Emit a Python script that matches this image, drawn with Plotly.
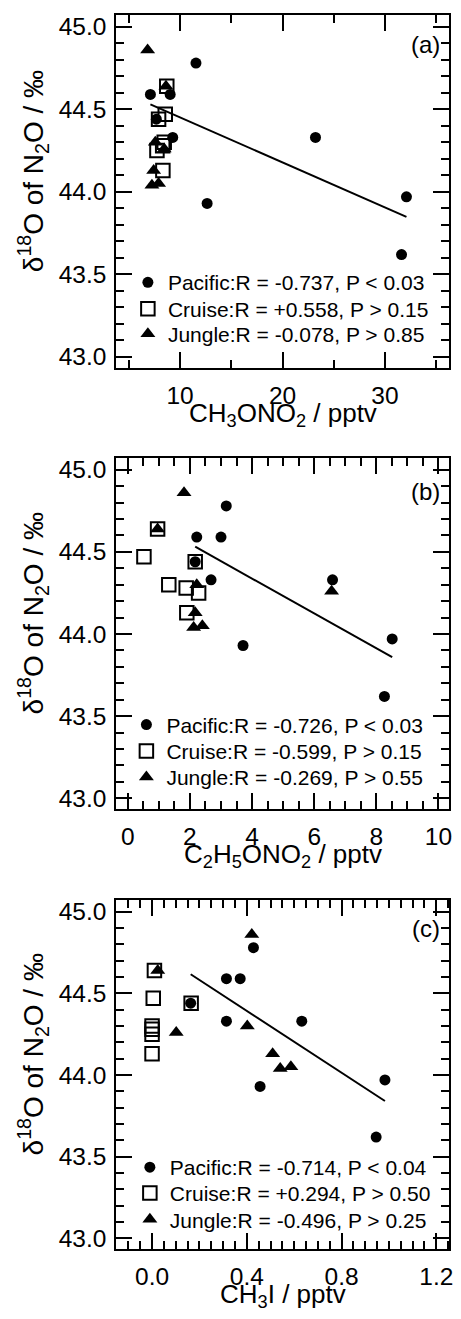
import numpy as np
import plotly.graph_objects as go

# ---------------- data ----------------
# delta18O of N2O (permil), shared by the three panels
pacific_d18o = [44.78, 44.59, 44.59, 44.44, 44.33, 44.33, 43.97, 43.93, 43.62]
cruise_d18o = [44.64, 44.47, 44.44, 44.30, 44.28, 44.25, 44.13]
jungle_d18o = [44.86, 44.64, 44.30, 44.26, 44.13, 44.05, 44.04]

# (a) CH3ONO2 / pptv
pacific_ch3ono2 = [11.55, 7.10, 9.03, 7.68, 9.28, 23.22, 32.10, 12.64, 31.62]
cruise_ch3ono2 = [8.70, 8.55, 7.90, 8.45, 8.30, 7.74, 8.32]
jungle_ch3ono2 = [6.83, 8.62, 7.58, 8.45, 7.42, 7.90, 7.25]

# (b) C2H5ONO2 / pptv
pacific_c2h5ono2 = [3.17, 2.22, 3.00, 2.17, 2.68, 6.59, 8.51, 3.71, 8.26]
cruise_c2h5ono2 = [0.96, 0.52, 2.17, 1.32, 1.88, 2.28, 1.90]
jungle_c2h5ono2 = [1.81, 0.96, 2.22, 6.56, 2.17, 2.40, 2.12]

# (c) CH3I / pptv
pacific_ch3i = [0.428, 0.314, 0.372, 0.163, 0.314, 0.632, 0.983, 0.456, 0.946]
cruise_ch3i = [0.010, 0.005, 0.165, 0.0, 0.0, 0.0, 0.0]
jungle_ch3i = [0.421, 0.024, 0.402, 0.102, 0.509, 0.586, 0.541]

panel_labels = ["(a)", "(b)", "(c)"]
x_titles = ["CH<sub>3</sub>ONO<sub>2</sub> / pptv",
            "C<sub>2</sub>H<sub>5</sub>ONO<sub>2</sub> / pptv",
            "CH<sub>3</sub>I / pptv"]
y_title = "\u03b4<sup>18</sup>O of N<sub>2</sub>O / \u2030"
legend_texts = [
    ["Pacific:R = -0.737, P < 0.03", "Cruise:R = +0.558, P > 0.15", "Jungle:R = -0.078, P > 0.85"],
    ["Pacific:R = -0.726, P < 0.03", "Cruise:R = -0.599, P > 0.15", "Jungle:R = -0.269, P > 0.55"],
    ["Pacific:R = -0.714, P < 0.04", "Cruise:R = +0.294, P > 0.50", "Jungle:R = -0.496, P > 0.25"],
]

panels_x = [
    (pacific_ch3ono2, cruise_ch3ono2, jungle_ch3ono2),
    (pacific_c2h5ono2, cruise_c2h5ono2, jungle_c2h5ono2),
    (pacific_ch3i, cruise_ch3i, jungle_ch3i),
]

# ---------------- layout geometry ----------------
W, H = 461, 1319
FONT = "Liberation Sans, Arial, Helvetica, sans-serif"
x_left, x_right = 117.3, 453.3
panel_px = [(13.3, 367.0), (458.0, 810.0), (901.7, 1251.7)]  # top, bottom in px
x_ranges = [[3.77, 36.29], [-0.37, 10.35], [-0.151, 1.255]]
x_dtick = [10, 2, 0.4]
x_minor = [5, 0.5, 0.05]
x_fmt = ["d", "d", ".1f"]
y_range = [42.935, 45.07]
legend_rows = [[281.7, 308.3, 333.3], [725.7, 752.3, 778.3], [1170.0, 1196.0, 1222.3]]
legend_left = [129.0, 127.5, 131.0]
label_centers = [42.5, 491.0, 930.0]

def py(v):
    return 1 - v / H

fig = go.Figure()

styles = [
    dict(symbol="circle", size=11, color="black"),
    dict(symbol="square-open", size=13.5, color="black", line=dict(width=2, color="black")),
    dict(symbol="triangle-up", size=13, color="black"),
]
ys = [pacific_d18o, cruise_d18o, jungle_d18o]

leg_idx = 0
for p in range(3):
    xs = panels_x[p]
    n = "" if p == 0 else str(p + 1)
    m = str(p + 4)
    # regression line of the Pacific data
    px_ = np.array(xs[0]); py_ = np.array(pacific_d18o)
    k, b = np.polyfit(px_, py_, 1)
    xl = np.array([px_.min(), px_.max()])
    fig.add_trace(go.Scatter(x=xl, y=k * xl + b, mode="lines",
                             line=dict(color="black", width=2),
                             showlegend=False, xaxis=f"x{n}", yaxis=f"y{n}", hoverinfo="skip"))
    for g in range(3):
        leg_idx += 1
        lname = "legend" if leg_idx == 1 else f"legend{leg_idx}"
        fig.add_trace(go.Scatter(x=xs[g], y=ys[g], mode="markers",
                                 marker=styles[g], name=legend_texts[p][g],
                                 xaxis=f"x{n}", yaxis=f"y{n}", legend=lname))
        fig.update_layout(**{lname: dict(
            x=legend_left[p] / W, xanchor="left",
            y=py(legend_rows[p][g]), yanchor="middle",
            bgcolor="rgba(0,0,0,0)", borderwidth=0,
            font=dict(family=FONT, size=21, color="black"),
            itemclick=False, itemdoubleclick=False)})
    # empty traces so that the mirrored (top / right) tick axes are drawn
    fig.add_trace(go.Scatter(x=[None], y=[None], mode="markers", showlegend=False,
                             xaxis=f"x{m}", yaxis=f"y{n}", hoverinfo="skip"))
    fig.add_trace(go.Scatter(x=[None], y=[None], mode="markers", showlegend=False,
                             xaxis=f"x{n}", yaxis=f"y{m}", hoverinfo="skip"))

tick_common = dict(ticks="inside", ticklen=16, tickwidth=1.6, tickcolor="black",
                   showgrid=False, zeroline=False)
label_font = dict(family=FONT, size=24.5, color="black")

for p in range(3):
    top, bot = panel_px[p]
    n = "" if p == 0 else str(p + 1)
    m = str(p + 4)  # mirror (overlay) axes
    xmin = dict(ticks="inside", ticklen=8, tickwidth=1.6, tickcolor="black",
                tick0=0, dtick=x_minor[p], showgrid=False)
    ymin = dict(ticks="inside", ticklen=8, tickwidth=1.6, tickcolor="black",
                tick0=43, dtick=0.1, showgrid=False)
    fig.update_layout(**{
        f"xaxis{n}": dict(tick_common, showline=True, linecolor="black", linewidth=2, mirror=True,
                          domain=[x_left / W, x_right / W], anchor=f"y{n}",
                          range=x_ranges[p], tick0=0, dtick=x_dtick[p], tickformat=x_fmt[p],
                          tickfont=label_font, ticklabelstandoff=5, ticklabeloverflow="allow",
                          minor=xmin),
        f"yaxis{n}": dict(tick_common, showline=True, linecolor="black", linewidth=2, mirror=True,
                          domain=[py(bot), py(top)], anchor=f"x{n}",
                          range=y_range, tick0=43, dtick=0.5, tickformat=".1f",
                          tickfont=label_font, ticklabelstandoff=3, ticklabeloverflow="allow",
                          minor=ymin),
        f"xaxis{m}": dict(tick_common, overlaying=f"x{n}", side="top", anchor=f"y{n}",
                          range=x_ranges[p], tick0=0, dtick=x_dtick[p],
                          showticklabels=False, showline=False, minor=xmin),
        f"yaxis{m}": dict(tick_common, overlaying=f"y{n}", side="right", anchor=f"x{n}",
                          range=y_range, tick0=43, dtick=0.5,
                          showticklabels=False, showline=False, minor=ymin),
    })
    # panel label
    fig.add_annotation(text=panel_labels[p], xref=f"x{n} domain", yref="paper",
                       x=1, y=py(label_centers[p]), xanchor="right", yanchor="middle",
                       xshift=-7, showarrow=False,
                       font=dict(family=FONT, size=24, color="black"))
    # x-axis title
    fig.add_annotation(text=x_titles[p], xref=f"x{n} domain", yref="paper",
                       x=0.5, y=py(bot + 47), xanchor="center", yanchor="middle",
                       showarrow=False, font=dict(family=FONT, size=26, color="black"))
    # y-axis title
    fig.add_annotation(text=y_title, xref="paper", yref="paper",
                       x=33 / W, y=py((top + bot) / 2 - 20), xanchor="center", yanchor="middle",
                       textangle=-90, showarrow=False,
                       font=dict(family=FONT, size=28, color="black"))

fig.update_layout(width=W, height=H, margin=dict(l=0, r=0, t=0, b=0),
                  paper_bgcolor="white", plot_bgcolor="white",
                  font=dict(family=FONT, color="black"))

fig.write_html("out.html", config={"displayModeBar": False},
               post_script="document.body.style.margin='0px';")
